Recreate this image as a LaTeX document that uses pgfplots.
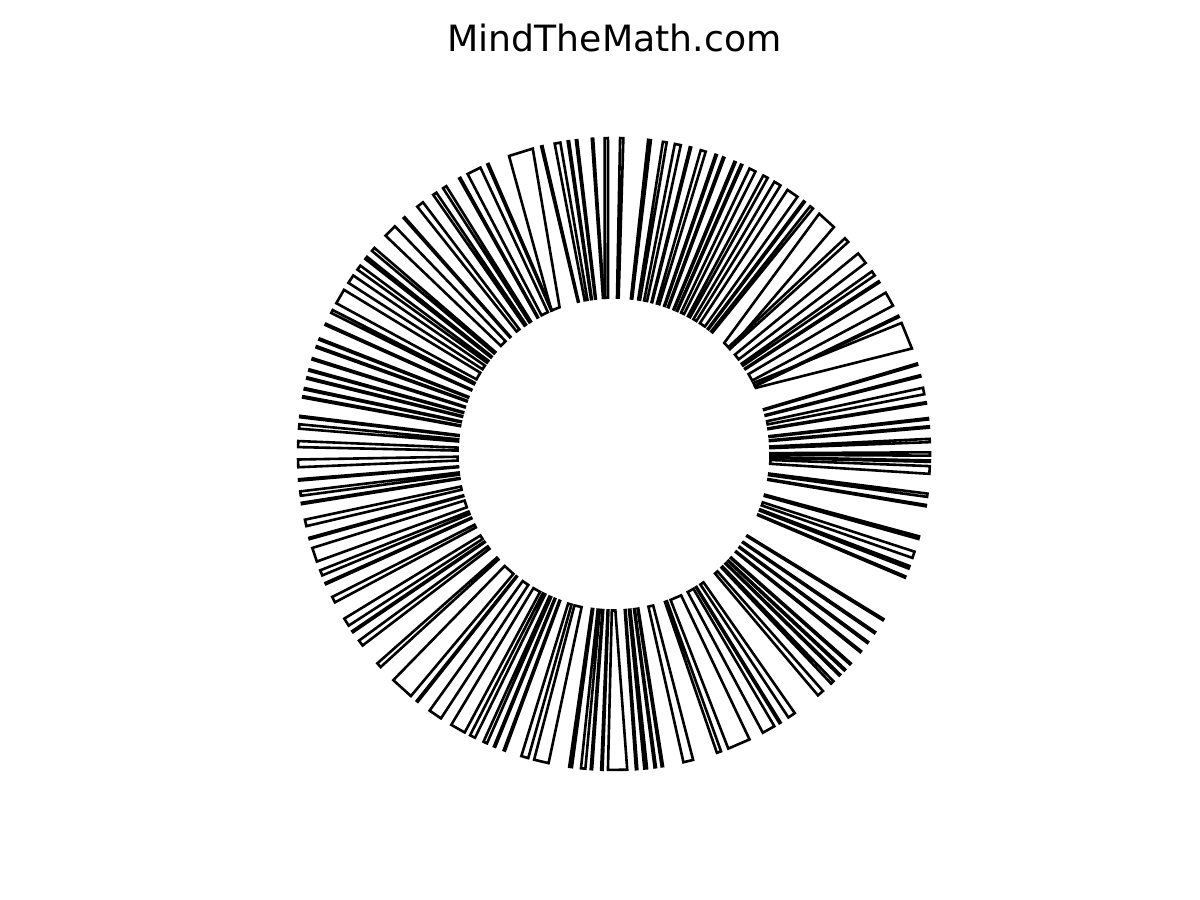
\documentclass[border=0pt]{standalone}
\usepackage{fontspec}
\setmainfont{DejaVu Sans}
\usepackage{pgfplots}
\pgfplotsset{compat=1.18}
\begin{document}
\begin{tikzpicture}
\begin{axis}[
  at={(0,0)}, anchor=south west,
  scale only axis, width=600pt, height=450pt,
  xmin=-614, xmax=586, ymin=-446, ymax=454,
  hide axis, clip=false,
]
% bars: outer centre angle / outer width / tilt of inner end / inner width (degrees)
\foreach \t/\w/\d/\v in {
 -31.6/0.25/0/0.3, -34.4/0.25/0/0.3, -36.6/0.25/0/0.3, -38.7/0.25/0/0.3,
 -41.6/0.25/0/0.3, -43.1/0.25/0/0.3, -44.4/0.25/0/0.3, -46.3/0.6/0/0.6,
 -49.2/1.2/0/1.2, -55.8/1.4/0/1.4, -58.3/0.25/0/0.3, -60.7/2.4/0/2.4,
 -66.7/4.2/0/4.2, -70.6/0.8/0/0.8, -76.4/1.8/0/1.8, -81.2/0.25/0/0.3,
 -82.5/0.25/0/0.3, -84.25/0.5/0/0.5, -85.9/0.25/0/0.3, -89.35/3.5/-0.8/1.3,
 -92.2/0.25/0/0.3, -94.1/0.25/0/0.3, -95.6/0.8/0/0.8, -97.9/0.5/0/0.5,
 -103.3/2.7/0/2.7, -106.4/1.3/0/1.3, -110.3/0.25/0/0.3, -112.2/0.25/0/0.3,
 -114.05/0.7/0/0.7, -116.6/1.0/0/1.0, -119.6/2.8/0/2.8, -124.45/2.5/0/2.5,
 -128.5/0.25/0/0.3, -132.15/4.3/0/4.3, -138.05/0.9/0/0.9, -143.25/1.1/0/1.1,
 -145.8/0.25/0/0.3, -147.85/1.5/0/1.5, -152.55/1.1/0/1.1, -155.8/0.25/0/0.3,
 -157.9/1.0/0/1.0, -161.4/2.6/0/2.6, -164.5/0.25/0/0.3, -167.4/1.2/0/1.2,
 -171.0/0.25/0/0.3, -172.8/0.8/0/0.8, -175.3/0.25/0/0.3, -178.3/1.4/0/1.4,
 178.2/1.1/0/1.1, 175.0/0.8/0/0.8, 173.2/0.25/0/0.3, 169.6/0.25/0/0.3,
 168.1/0.25/0/0.3, 166.1/0.25/0/0.3, 164.6/0.25/0/0.3, 162.5/0.25/0/0.3,
 160.2/0.25/0/0.3, 158.7/0.25/0/0.3, 155.8/0.25/0/0.3, 153.2/0.6/0/0.6,
 150.1/2.8/0/2.8, 146.4/1.6/0/1.6, 143.85/0.9/0/0.9, 141.65/0.5/0/0.5,
 139.65/0.7/0/0.7, 135.1/2.4/0/2.4, 131.6/0.25/0/0.3, 127.85/1.3/0/1.3,
 124.55/0.7/0/0.7, 122.4/0.7/0/0.7, 119.2/0.25/0/0.3, 116.3/2.6/0/2.6,
 113.5/0.25/0/0.3, 107.15/4.5/4.8/3.2, 103.2/0.25/0/0.3, 100.3/1.05/0/1.05,
 98.3/0.25/0/0.3, 96.8/0.25/0/0.3, 93.9/0.25/0/0.3, 91.4/0.6/1.4/1.2,
 88.6/0.6/0/0.6, 83.55/0.5/0/0.5, 80.75/0.7/0/0.7, 78.35/1.1/0/1.1,
 76.0/0.25/0/0.3, 73.6/0.95/0/0.95, 71.15/0.25/0/0.3, 69.7/0.25/0/0.3,
 67.5/0.25/0/0.3, 66.2/0.25/0/0.3, 64.0/1.2/0/1.2, 61.35/0.9/0/0.9,
 58.85/1.3/0/1.3, 55.6/2.2/0/2.2, 53.0/0.25/0/0.3, 51.3/0.65/0/0.65,
 47.7/3.6/-4/3.0, 42.6/0.9/0/0.9, 38.3/2.2/0/2.2, 34.85/0.9/0/0.9,
 33.0/0.25/0/0.3, 29.35/2.7/0/2.7, 25.8/0.25/0/0.3, 22.0/5.0/4/2.0,
 16.5/0.25/0/0.3, 14.3/0.25/0/0.3, 11.5/1.2/0/1.2, 9.3/0.25/0/0.3,
 6.4/0.25/0/0.3, 4.9/0.25/0/0.3, 2.45/0.6/0/0.6, 0.0/0.6/0/0.6,
 -1.3/0.25/0/0.3, -2.9/1.4/0/1.4, -7.5/0.6/0/0.6, -9.4/0.25/0/0.3,
 -15.35/0.5/0/0.5, -18.6/1.2/0/1.2, -21.0/0.5/0/0.5, -22.9/0.25/0/0.3}{
  \pgfmathsetmacro\oA{\t-\w/2}
  \pgfmathsetmacro\oB{\t+\w/2}
  \pgfmathsetmacro\iA{\t+\d-\v/2}
  \pgfmathsetmacro\iB{\t+\d+\v/2}
  \pgfmathsetmacro\xa{316*cos(\oA)}\pgfmathsetmacro\ya{316*sin(\oA)}
  \pgfmathsetmacro\xb{316*cos(\oB)}\pgfmathsetmacro\yb{316*sin(\oB)}
  \pgfmathsetmacro\xc{156.5*cos(\iB)}\pgfmathsetmacro\yc{156.5*sin(\iB)}
  \pgfmathsetmacro\xd{156.5*cos(\iA)}\pgfmathsetmacro\yd{156.5*sin(\iA)}
  \edef\temp{\noexpand\addplot[black, line width=1.3pt, line join=miter, mark=none]
    coordinates {(\xa,\ya) (\xb,\yb) (\xc,\yc) (\xd,\yd)} -- cycle;}
  \temp
}
\node[anchor=base, font=\fontsize{18.1}{22}\selectfont] at (axis cs:0.5,402) {MindTheMath.com};
\end{axis}
\pgfresetboundingbox
\path (0,0) rectangle (600pt,450pt);
\end{tikzpicture}
\end{document}
